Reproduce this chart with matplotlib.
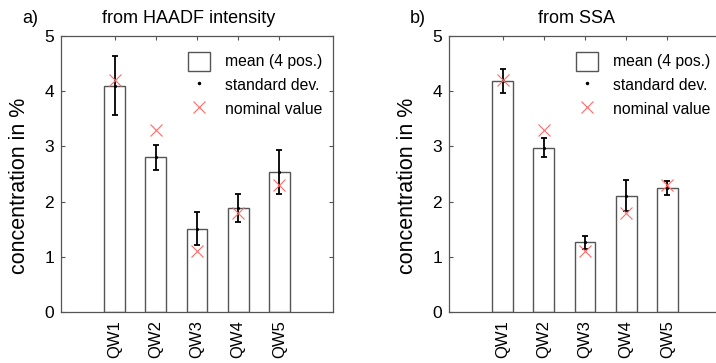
import matplotlib
matplotlib.use("Agg")
import matplotlib.pyplot as plt
from matplotlib.patches import Patch
from matplotlib.lines import Line2D
import numpy as np

plt.rcParams['font.family'] = ['Liberation Sans', 'DejaVu Sans']

categories = ["QW1", "QW2", "QW3", "QW4", "QW5"]
nominal = [4.2, 3.3, 1.1, 1.8, 2.3]

haadf_mean = [4.10, 2.80, 1.51, 1.88, 2.53]
haadf_std = [0.54, 0.22, 0.30, 0.25, 0.40]

ssa_mean = [4.18, 2.98, 1.26, 2.11, 2.25]
ssa_std = [0.22, 0.17, 0.12, 0.28, 0.13]

panels = [
    ("a)", "from HAADF intensity", haadf_mean, haadf_std),
    ("b)", "from SSA", ssa_mean, ssa_std),
]

W, H = 716, 363
fig = plt.figure(figsize=(W / 100, H / 100), dpi=100)

edge = '#555555'
red = '#ff6a6a'
lefts = [61, 449]
ax_w = 272
ax_top = 36
ax_bot = 312

for (tag, title, mean, std), lp in zip(panels, lefts):
    ax = fig.add_axes([lp / W, (H - ax_bot) / H, ax_w / W, (ax_bot - ax_top) / H])
    x = np.arange(1, len(categories) + 1)
    ax.bar(x, mean, width=0.5, facecolor='white', edgecolor=edge, linewidth=1.0, zorder=2)
    ax.errorbar(x, mean, yerr=std, fmt='.', color='black', ecolor='black',
                markersize=2.5, elinewidth=1.3, capsize=2, capthick=1.3, zorder=4)
    ax.plot(x, nominal, linestyle='none', marker='x', color=red,
            markersize=8, markeredgewidth=0.8, zorder=5)
    ax.set_xlim(-0.3, 6.3)
    ax.set_ylim(0, 5)
    ax.set_xticks(x)
    ax.set_xticklabels(categories, rotation=90, fontsize=12)
    ax.set_yticks([0, 1, 2, 3, 4, 5])
    ax.tick_params(axis='both', direction='in', length=3, width=0.8, color=edge,
                   top=True, right=True, pad=6)
    ax.tick_params(axis='y', labelsize=12.5, pad=5)
    for s in ax.spines.values():
        s.set_color(edge)
        s.set_linewidth(0.9)
    ax.set_ylabel("concentration in %", fontsize=15.5)
    ax.yaxis.set_label_coords(-0.115, 0.457)
    ax.text(0.47, 1.065, title, transform=ax.transAxes, fontsize=13,
            ha='center', va='center')
    ax.text(-0.143, 1.065, tag, transform=ax.transAxes, fontsize=13,
            ha='left', va='center')

    handles = [
        Patch(facecolor='white', edgecolor=edge, linewidth=1.0),
        Line2D([], [], linestyle='none', marker='.', color='black', markersize=3),
        Line2D([], [], linestyle='none', marker='x', color=red, markersize=8, markeredgewidth=0.8),
    ]
    ax.legend(handles, ["mean (4 pos.)", "standard dev.", "nominal value"],
              loc='upper right', frameon=False, fontsize=11.3,
              handlelength=1.4, handleheight=1.5, handletextpad=0.95,
              labelspacing=0.3, borderaxespad=0.6, bbox_to_anchor=(1.018, 1.0))

fig.savefig("out.png", dpi=100)
